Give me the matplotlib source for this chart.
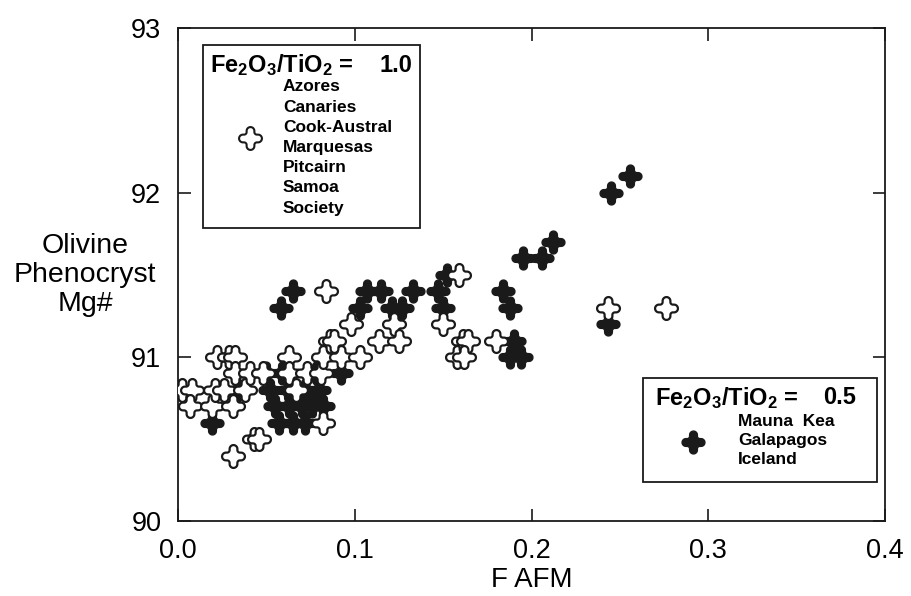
import numpy as np
import matplotlib
matplotlib.use("Agg")
import matplotlib.pyplot as plt
from matplotlib.path import Path
from matplotlib.patches import Rectangle

plt.rcParams["font.family"] = ["Liberation Sans", "DejaVu Sans"]
plt.rcParams["mathtext.fontset"] = "custom"
plt.rcParams["mathtext.rm"] = "Liberation Sans:bold"
plt.rcParams["mathtext.bf"] = "Liberation Sans:bold"

# Fe2O3/TiO2 = 1.0 group (open symbols)
open_x = [0.002, 0.008, 0.007, 0.019, 0.021, 0.026, 0.022, 0.029, 0.032, 0.032,
          0.031, 0.038, 0.041, 0.048, 0.031, 0.043, 0.046, 0.063, 0.063, 0.067,
          0.073, 0.081, 0.082, 0.082, 0.086, 0.084, 0.092, 0.098, 0.088, 0.103,
          0.114, 0.122, 0.125, 0.150, 0.159, 0.158, 0.161, 0.164, 0.162, 0.180,
          0.243, 0.276]
open_y = [90.8, 90.8, 90.7, 90.7, 90.8, 90.8, 91.0, 91.0, 91.0, 90.9,
          90.7, 90.8, 90.9, 90.9, 90.4, 90.5, 90.5, 91.0, 90.9, 90.8,
          90.9, 90.9, 91.0, 90.6, 91.1, 91.4, 91.0, 91.2, 91.1, 91.0,
          91.1, 91.2, 91.1, 91.2, 91.5, 91.0, 91.1, 91.1, 91.0, 91.1,
          91.3, 91.3]

# Fe2O3/TiO2 = 0.5 group (filled symbols)
fill_x = [0.019, 0.034, 0.050, 0.059, 0.078, 0.092, 0.052, 0.062, 0.072, 0.080,
          0.055, 0.063, 0.070, 0.076, 0.082, 0.057, 0.065, 0.072, 0.058, 0.065,
          0.103, 0.107, 0.115, 0.121, 0.127, 0.133, 0.147, 0.150, 0.152, 0.184,
          0.188, 0.190, 0.188, 0.194, 0.195, 0.206, 0.212, 0.243, 0.245, 0.256]
fill_y = [90.6, 90.8, 90.9, 90.9, 90.9, 90.9, 90.8, 90.8, 90.8, 90.8,
          90.7, 90.7, 90.7, 90.7, 90.7, 90.6, 90.6, 90.6, 91.3, 91.4,
          91.3, 91.4, 91.4, 91.3, 91.3, 91.4, 91.4, 91.3, 91.5, 91.4,
          91.3, 91.1, 91.0, 91.0, 91.6, 91.6, 91.7, 91.2, 92.0, 92.1]

group1_names = ["Azores", "Canaries", "Cook-Austral", "Marquesas",
                "Pitcairn", "Samoa", "Society"]
group2_names = ["Mauna  Kea", "Galapagos", "Iceland"]


def round_cross(a=0.34, f=0.22, n=16):
    # plus sign with round arm ends and filleted inner corners
    tip = np.linspace(-np.pi / 2, np.pi / 2, n)
    fil = np.linspace(-np.pi / 2, -np.pi, n)
    quarter = np.vstack([
        np.column_stack([1 - a + a * np.cos(tip), a * np.sin(tip)]),
        np.column_stack([a + f + f * np.cos(fil), a + f + f * np.sin(fil)]),
    ])
    pts = []
    for k in range(4):
        c, s = np.cos(k * np.pi / 2), np.sin(k * np.pi / 2)
        pts.append(quarter @ np.array([[c, s], [-s, c]]))
    verts = np.vstack(pts + [pts[0][:1]])
    codes = [Path.MOVETO] + [Path.LINETO] * (len(verts) - 2) + [Path.CLOSEPOLY]
    return Path(verts, codes)


mk = round_cross()
MS = 270

fig = plt.figure(figsize=(9.11, 5.96), dpi=100)
L, R, T, B = 178, 885, 28.3, 521.3
ax = fig.add_axes([L / 911, (596 - B) / 596, (R - L) / 911, (B - T) / 596])


def af(px, py):
    return (px - L) / (R - L), (B - py) / (B - T)


ax.scatter(fill_x, fill_y, s=MS, marker=mk, facecolor="#1a1a1a",
           edgecolor="#1a1a1a", linewidth=1.0, zorder=3)
ax.scatter(open_x, open_y, s=MS, marker=mk, facecolor="white",
           edgecolor="#1a1a1a", linewidth=1.6, zorder=4)

ax.set_xlim(0.0, 0.4)
ax.set_ylim(90, 93)
ax.set_xticks([0.0, 0.1, 0.2, 0.3, 0.4])
ax.set_xticklabels(["0.0", "0.1", "0.2", "0.3", "0.4"])
ax.set_yticks([90, 91, 92, 93])
ax.tick_params(direction="in", length=9, width=1.2, labelsize=19.5,
               top=True, right=True, color="#1a1a1a")
ax.tick_params(axis="y", pad=12)
ax.tick_params(axis="x", pad=12)
for s in ax.spines.values():
    s.set_linewidth(1.3)
    s.set_color("#1a1a1a")

ax.set_xlabel("F AFM", fontsize=20, labelpad=2)
fig.text(85 / 911, 1 - 275 / 596, "Olivine\nPhenocryst\nMg#", fontsize=20.5,
         ha="center", va="center", linespacing=1.15)

# legend box 1
x0, y0 = af(203, 228)
x1, y1 = af(420, 45)
ax.add_patch(Rectangle((x0, y0), x1 - x0, y1 - y0, transform=ax.transAxes,
                       facecolor="white", edgecolor="#1a1a1a", lw=1.3,
                       zorder=5, clip_on=False))
ax.text(*af(210, 65), r"$\mathbf{Fe_2O_3/TiO_2}$ =", transform=ax.transAxes,
        fontsize=17, fontweight="bold", ha="left", va="center", zorder=6)
ax.text(*af(412, 65), "1.0", transform=ax.transAxes, fontsize=17,
        fontweight="bold", ha="right", va="center", zorder=6)
for i, name in enumerate(group1_names):
    ax.text(*af(283, 87 + i * 20.2), name, transform=ax.transAxes,
            fontsize=12.5, fontweight="bold", ha="left", va="center", zorder=6)
ax.scatter(*af(250, 138), s=MS, marker=mk, facecolor="white",
           edgecolor="#1a1a1a", linewidth=1.5, transform=ax.transAxes,
           zorder=6, clip_on=False)

# legend box 2
x0, y0 = af(643, 482)
x1, y1 = af(877, 378)
ax.add_patch(Rectangle((x0, y0), x1 - x0, y1 - y0, transform=ax.transAxes,
                       facecolor="white", edgecolor="#1a1a1a", lw=1.3,
                       zorder=5, clip_on=False))
ax.text(*af(655, 398), r"$\mathbf{Fe_2O_3/TiO_2}$ =", transform=ax.transAxes,
        fontsize=17, fontweight="bold", ha="left", va="center", zorder=6)
ax.text(*af(856, 398), "0.5", transform=ax.transAxes, fontsize=17,
        fontweight="bold", ha="right", va="center", zorder=6)
for i, name in enumerate(group2_names):
    ax.text(*af(738, 422 + i * 19), name, transform=ax.transAxes,
            fontsize=12.5, fontweight="bold", ha="left", va="center", zorder=6)
ax.scatter(*af(693, 442), s=MS, marker=mk, facecolor="#1a1a1a",
           edgecolor="#1a1a1a", linewidth=1.0, transform=ax.transAxes,
           zorder=6, clip_on=False)

fig.savefig("out.png", dpi=100)
